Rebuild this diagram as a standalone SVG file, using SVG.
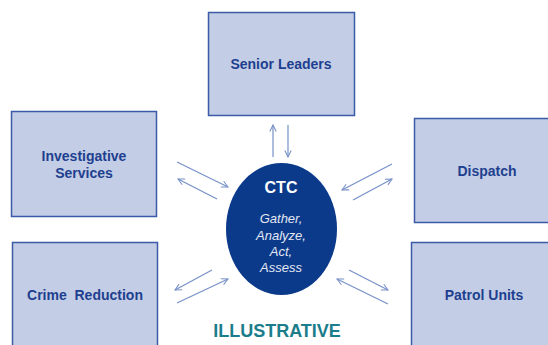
<svg xmlns="http://www.w3.org/2000/svg" width="548" height="345" viewBox="0 0 548 345">
<defs>
<style>
.box{fill:#c3cde5;stroke:#3b5ba8;stroke-width:1.5}
.lbl{font-family:"Liberation Sans",Arial,sans-serif;font-weight:bold;font-size:14px;fill:#1e3f8f;text-anchor:middle}
.conn{stroke:#7690c8;stroke-width:1.2;fill:none;marker-end:url(#ah)}
.it{font-family:"Liberation Sans",Arial,sans-serif;font-style:italic;font-size:13px;fill:#e4e8f2;text-anchor:middle}
</style>
<marker id="ah" viewBox="0 0 10 10" refX="9" refY="5" markerWidth="8" markerHeight="8" markerUnits="userSpaceOnUse" orient="auto">
<path d="M1,1 L9,5 L1,9" fill="none" stroke="#7690c8" stroke-width="1.3"/>
</marker>
</defs>
<rect width="548" height="345" fill="#ffffff"/>
<g id="senior-leaders"><rect class="box" x="208.5" y="12.5" width="146" height="103"/><text class="lbl" x="281" y="69">Senior Leaders</text></g>
<g id="investigative-services"><rect class="box" x="11.5" y="111.5" width="145" height="105"/><text class="lbl" x="84" y="161">Investigative</text><text class="lbl" x="84" y="178">Services</text></g>
<g id="crime-reduction"><rect class="box" x="12.5" y="242.5" width="145" height="110"/><text class="lbl" x="85" y="300" xml:space="preserve">Crime  Reduction</text></g>
<g id="dispatch"><rect class="box" x="414.5" y="118.5" width="145" height="104"/><text class="lbl" x="487" y="176">Dispatch</text></g>
<g id="patrol-units"><rect class="box" x="411.5" y="242.5" width="145" height="110"/><text class="lbl" x="484" y="300">Patrol Units</text></g>
<g id="ctc"><ellipse cx="281.5" cy="229" rx="55.5" ry="66" fill="#0b3a8b"/>
<text x="281" y="193" font-family="Liberation Sans,Arial,sans-serif" font-weight="bold" font-size="16" fill="#ffffff" text-anchor="middle">CTC</text>
<text class="it" x="281" y="223">Gather,</text>
<text class="it" x="281" y="240">Analyze,</text>
<text class="it" x="281" y="256">Act,</text>
<text class="it" x="281" y="272">Assess</text></g>
<g id="connectors">
<line class="conn" x1="273" y1="157" x2="273" y2="125"/>
<line class="conn" x1="288" y1="125" x2="288" y2="157"/>
<line class="conn" x1="177" y1="162" x2="228" y2="187"/>
<line class="conn" x1="217" y1="199" x2="178" y2="179"/>
<line class="conn" x1="392" y1="164" x2="342" y2="190"/>
<line class="conn" x1="353" y1="200" x2="392" y2="179"/>
<line class="conn" x1="212" y1="270" x2="175" y2="290"/>
<line class="conn" x1="177" y1="303" x2="228" y2="279"/>
<line class="conn" x1="349" y1="270" x2="388" y2="290"/>
<line class="conn" x1="388" y1="304" x2="337" y2="279"/>
</g>
<text x="277" y="337" font-family="Liberation Sans,Arial,sans-serif" font-weight="bold" font-size="18" fill="#1b7d8c" text-anchor="middle">ILLUSTRATIVE</text>
</svg>
